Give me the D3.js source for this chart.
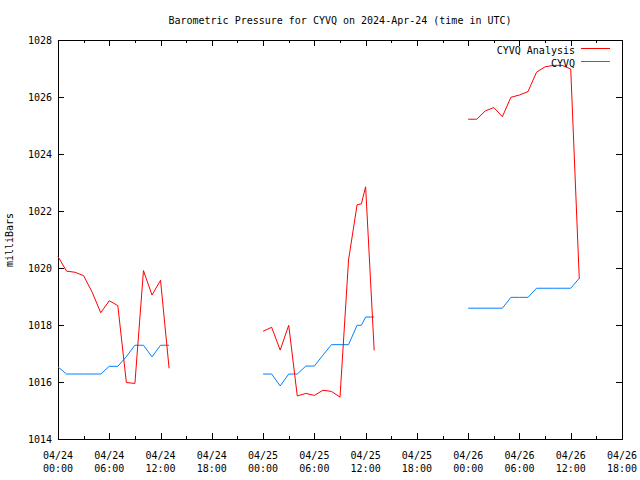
<!DOCTYPE html>
<html>
<head>
<meta charset="utf-8">
<script src="https://cdn.jsdelivr.net/npm/d3@7"></script>
<style>
html,body{margin:0;padding:0;background:#fff;}
text{font-family:"DejaVu Sans Mono","Liberation Mono",monospace;font-size:10px;fill:#000;}
</style>
</head>
<body>
<svg id="chart" width="640" height="480"></svg>
<script>
// ---- data (hours since 2024-04-24 00:00 UTC) ----
const analysisHours = [0,1,2,3,4,5,6,7,8,9,10,11,12,13, 14,
  24,25,26,27,28,29,30,31,32,33,34,35,35.5,36,37, 38,
  48,49,50,51,52,53,54,55,56,57,58,59,60,61];
const analysisValues = [1020.40,1019.89,1019.85,1019.73,1019.15,1018.43,1018.85,1018.68,1015.98,1015.95,1019.91,1019.05,1019.57,1016.48, null,
  1017.78,1017.92,1017.12,1017.99,1015.51,1015.60,1015.53,1015.71,1015.67,1015.47,1020.28,1022.22,1022.25,1022.85,1017.11, null,
  1025.22,1025.22,1025.51,1025.63,1025.31,1025.99,1026.07,1026.19,1026.87,1027.06,1027.11,1027.11,1026.98,1019.62];

const obsHours = [0,1,2,3,4,5,6,7,8,9,10,11,12,13, 14,
  24,25,26,27,28,29,30,31,32,33,34,35,35.5,36,37, 38,
  48,49,50,51,52,53,54,55,56,57,58,59,60,61];
const obsValues = [1016.53,1016.28,1016.28,1016.28,1016.28,1016.28,1016.55,1016.55,1016.89,1017.29,1017.29,1016.88,1017.29,1017.29, null,
  1016.28,1016.28,1015.86,1016.28,1016.28,1016.56,1016.56,1016.94,1017.31,1017.31,1017.31,1017.99,1017.99,1018.28,1018.28, null,
  1018.59,1018.59,1018.59,1018.59,1018.59,1018.97,1018.97,1018.97,1019.29,1019.29,1019.29,1019.29,1019.29,1019.64];

const yTicks = [1014,1016,1018,1020,1022,1024,1026,1028];
const xTickHours = [0,6,12,18,24,30,36,42,48,54,60,66];
const xMinorHours = [3,9,15,21,27,33,39,45,51,57,63];
const seriesNames = ["CYVQ Analysis","CYVQ"];
const seriesColors = ["#ff0000","#0080ff"];
const titleText = "Barometric Pressure for CYVQ on 2024-Apr-24 (time in UTC)";
const yLabel = "milliBars";

// ---- drawing ----
const t0 = Date.UTC(2024,3,24,0,0);
const toDate = h => new Date(t0 + h*3600000);
const svg = d3.select("#chart");
const L = 58, R = 622, T = 40, B = 439;

const x = d3.scaleUtc().domain([toDate(0), toDate(66)]).range([L, R]);
const y = d3.scaleLinear().domain([1014, 1028]).range([B, T]);

// title
svg.append("text").attr("x", 340).attr("y", 24).attr("text-anchor","middle").text(titleText);
// y label
svg.append("text").attr("transform","translate(13,240) rotate(-90)").attr("text-anchor","middle").text(yLabel);

const fmtDate = d3.utcFormat("%m/%d"), fmtTime = d3.utcFormat("%H:%M");

function clean(g){
  g.select(".domain").remove();
  g.selectAll(".tick line").attr("stroke","#000").attr("shape-rendering","crispEdges");
  g.selectAll("text").attr("font-size",null).attr("font-family",null).attr("fill","#000");
}
// axes (major)
[[d3.axisBottom, B],[d3.axisTop, T]].forEach(([ax,pos])=>{
  const g = svg.append("g").attr("transform",`translate(0,${pos})`)
    .call(ax(x).tickValues(xTickHours.map(toDate)).tickSize(-6).tickFormat(""));
  clean(g);
  const m = svg.append("g").attr("transform",`translate(0,${pos})`)
    .call(ax(x).tickValues(xMinorHours.map(toDate)).tickSize(-3).tickFormat(""));
  clean(m);
});
const yl = svg.append("g").attr("transform",`translate(${L},0)`)
  .call(d3.axisLeft(y).tickValues(yTicks).tickSize(-6).tickFormat(d3.format("d")).tickPadding(6));
clean(yl);
yl.selectAll(".tick text").attr("dy","0.35em");
const yr = svg.append("g").attr("transform",`translate(${R},0)`)
  .call(d3.axisRight(y).tickValues(yTicks).tickSize(-6).tickFormat(""));
clean(yr);

// x labels (two lines)
const xl = svg.append("g");
xTickHours.forEach(h=>{
  const d = toDate(h);
  const g = xl.append("text").attr("x", x(d)).attr("y", B+20).attr("text-anchor","middle");
  g.append("tspan").attr("x", x(d)).text(fmtDate(d));
  g.append("tspan").attr("x", x(d)).attr("dy", 13).text(fmtTime(d));
});

// border
svg.append("rect").attr("x",L+0.5).attr("y",T+0.5).attr("width",R-L).attr("height",B-T)
  .attr("fill","none").attr("stroke","#000").attr("shape-rendering","crispEdges");

// lines
const line = d3.line().defined(d=>d[1]!==null).x(d=>x(toDate(d[0]))).y(d=>y(d[1]));
const series = [
  analysisHours.map((h,i)=>[h, analysisValues[i]]),
  obsHours.map((h,i)=>[h, obsValues[i]])
];
[1,0].forEach(k=>{
  svg.append("path").datum(series[k]).attr("d", line).attr("fill","none")
    .attr("stroke", seriesColors[k]).attr("stroke-width",1);
});

// legend
seriesNames.forEach((n,i)=>{
  const yy = 54 + i*13;
  svg.append("text").attr("x",575).attr("y",yy).attr("text-anchor","end").text(n);
  svg.append("line").attr("x1",581).attr("x2",610).attr("y1",yy-5.5).attr("y2",yy-5.5)
    .attr("stroke",seriesColors[i]).attr("stroke-width",1);
});
</script>
</body>
</html>
